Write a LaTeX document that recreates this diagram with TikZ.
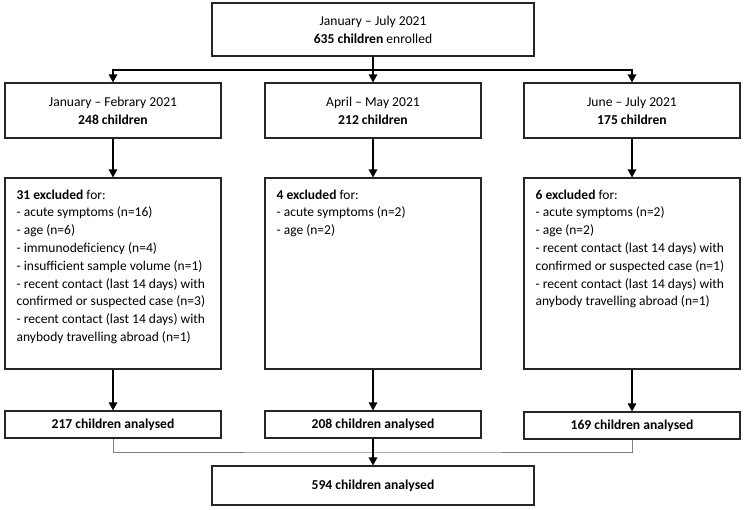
\documentclass[tikz,border=0pt]{standalone}
\usepackage{fontspec}
\setmainfont{Carlito}
\usepackage{tikz}
\usetikzlibrary{arrows.meta,positioning,calc}
\tikzstyle{box} = [rectangle, draw=black!85, line width=1.1pt, align=center, inner sep=0pt, font=\fontsize{13.6}{18.2}\selectfont]
\tikzstyle{arr} = [-{Triangle[length=8pt,width=8.5pt]}, line width=1.3pt]

\begin{document}
\begin{tikzpicture}[x=1pt,y=-1pt]
    \tikzstyle{period} = [box, minimum width=216pt, minimum height=55pt]
    \tikzstyle{exclbox} = [box, minimum width=216pt, minimum height=191pt]
    \tikzstyle{exclist} = [align=left, inner sep=0pt, anchor=north west, font=\fontsize{13.5}{17.8}\selectfont]
    \tikzstyle{result} = [box, minimum width=216pt, minimum height=27pt, font=\fontsize{13.6}{18.2}\selectfont\bfseries]
    \useasboundingbox (0,0) rectangle (745,510);
    % enrolment
    \node[box, minimum width=322pt, minimum height=53pt] (all) at (373,29.5) {January -- July 2021\\\textbf{635 children} enrolled};
    % periods
    \node[period] (p1) at (113,110.5) {January -- Febrary 2021\\\textbf{248 children}};
    \node[period] (p2) at (373,110.5) {April -- May 2021\\\textbf{212 children}};
    \node[period] (p3) at (632,110.5) {June -- July 2021\\\textbf{175 children}};
    % exclusions
    \node[exclbox] (e1) at (113,273.5) {};
    \node[exclbox] (e2) at (373,273.5) {};
    \node[exclbox] (e3) at (632,273.5) {};
    \node[exclist, below right=12pt and 12pt of e1.north west] {\textbf{31 excluded} for:\\- acute symptoms (n=16)\\- age (n=6)\\- immunodeficiency (n=4)\\- insufficient sample volume (n=1)\\- recent contact (last 14 days) with\\confirmed or suspected case (n=3)\\- recent contact (last 14 days) with\\anybody travelling abroad (n=1)};
    \node[exclist, below right=12pt and 12pt of e2.north west] {\textbf{4 excluded} for:\\- acute symptoms (n=2)\\- age (n=2)};
    \node[exclist, below right=12pt and 12pt of e3.north west] {\textbf{6 excluded} for:\\- acute symptoms (n=2)\\- age (n=2)\\- recent contact (last 14 days) with\\confirmed or suspected case (n=1)\\- recent contact (last 14 days) with\\anybody travelling abroad (n=1)};
    % analysed
    \node[result] (a1) at (113,424.5) {217 children analysed};
    \node[result] (a2) at (373,424.5) {208 children analysed};
    \node[result] (a3) at (632,425.5) {169 children analysed};
    \node[result, minimum width=322pt, minimum height=39pt] (total) at (373,485.5) {594 children analysed};
    % connectors
    \coordinate (split) at (373,70);
    \coordinate (merge) at (373,452);
    \draw[arr] (all.south) -- (p2.north);
    \draw[arr] (split) -| (p1.north);
    \draw[arr] (split) -| (p3.north);
    \draw[arr] (p1) -- (e1); \draw[arr] (p2) -- (e2); \draw[arr] (p3) -- (e3);
    \draw[arr] (e1) -- (a1); \draw[arr] (e2) -- (a2); \draw[arr] (e3) -- (a3);
    \draw[gray, line width=0.8pt] (a1.south) |- (merge) -| (a3.south);
    \draw[arr] (a2.south) -- (total.north);
\end{tikzpicture}
\end{document}
